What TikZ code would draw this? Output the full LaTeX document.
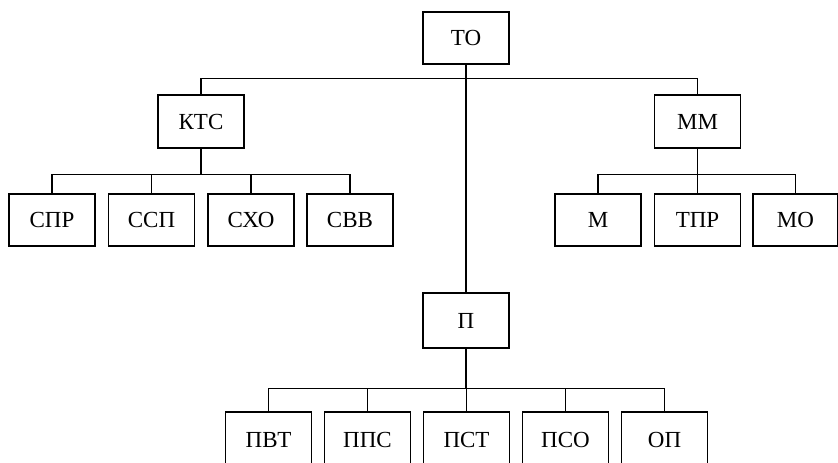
\documentclass[tikz,border=0pt]{standalone}
\usepackage{fontspec}
\setmainfont{Liberation Serif}
\begin{document}
\begin{tikzpicture}[x=1pt,y=-1pt,
  box/.style={draw,line width=1.2pt,rectangle,inner sep=0pt,minimum width=86pt,minimum height=53pt,font=\fontsize{23}{26}\selectfont},
  conn/.style={line width=1.2pt}]
\useasboundingbox (0,0) rectangle (838,463);
\clip (0,0) rectangle (838,463);
\node[box,minimum height=52pt] (TO) at (466,38) {ТО};
\node[box] (KTS) at (201,121.5) {КТС};
\node[box] (MM) at (697.5,121.5) {ММ};
\node[box,minimum height=52pt] (SPR) at (52,220) {СПР};
\node[box,minimum height=52pt] (SSP) at (151.5,220) {ССП};
\node[box,minimum height=52pt] (SHO) at (251,220) {СХО};
\node[box,minimum height=52pt] (SVV) at (350,220) {СВВ};
\node[box,minimum height=52pt] (M) at (598,220) {М};
\node[box,minimum height=52pt] (TPR) at (697.5,220) {ТПР};
\node[box,minimum height=52pt,minimum width=85pt] (MO) at (795.5,220) {МО};
\node[box,minimum height=55pt] (P) at (466,320.5) {П};
\node[box,minimum height=55pt] (PVT) at (268.5,439.5) {ПВТ};
\node[box,minimum height=55pt] (PPS) at (367.5,439.5) {ППС};
\node[box,minimum height=55pt] (PST) at (466.5,439.5) {ПСТ};
\node[box,minimum height=55pt] (PSO) at (565.5,439.5) {ПСО};
\node[box,minimum height=55pt] (OP) at (664.5,439.5) {ОП};
% top level
\draw[conn] (TO.south) -- (P.north);
\draw[conn] (KTS.north) -- ++(0,-16) coordinate (b0) -| (MM.north);
% KTC children
\draw[conn] (KTS.south) -- ++(0,26) coordinate (b1);
\draw[conn] (SPR.north) |- (b1) -| (SVV.north);
\draw[conn] (SSP.north) -- (SSP.north |- b1);
\draw[conn] (SHO.north) -- (SHO.north |- b1);
% MM children
\draw[conn] (MM.south) -- ++(0,26) coordinate (b2);
\draw[conn] (M.north) |- (b2) -| (MO.north);
\draw[conn] (TPR.north) -- (b2);
% P children
\draw[conn] (P.south) -- ++(0,40) coordinate (b3);
\draw[conn] (PVT.north) |- (b3) -| (OP.north);
\draw[conn] (PPS.north) -- (PPS.north |- b3);
\draw[conn] (PST.north) -- (PST.north |- b3);
\draw[conn] (PSO.north) -- (PSO.north |- b3);
\end{tikzpicture}
\end{document}
